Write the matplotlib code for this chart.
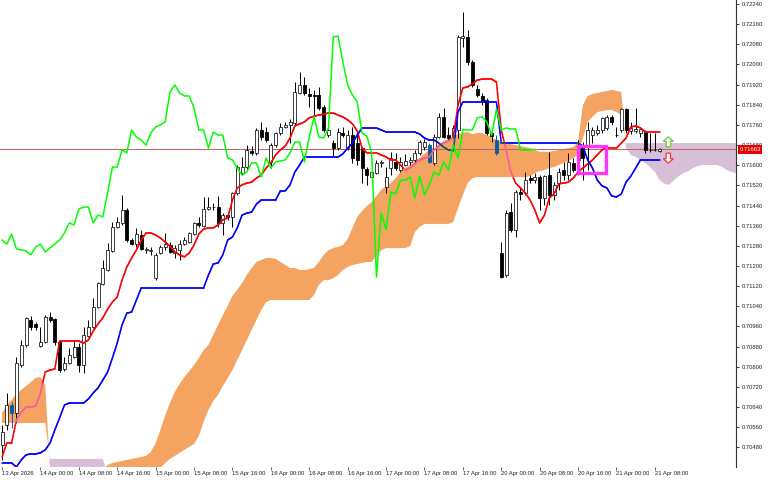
import numpy as np
import matplotlib
matplotlib.use("Agg")
import matplotlib.pyplot as plt
from matplotlib.collections import LineCollection
from matplotlib.patches import Rectangle, Polygon

plt.rcParams['font.family'] = ['Liberation Sans', 'DejaVu Sans']

# AUDUSD-like H1 candles, prices in points (1e-5)
open_pts = [
    70489, 70569, 70648, 70616, 70807, 70886, 70986, 70970, 70882, 70898,
    70998, 70990, 70898, 70791, 70815, 70839, 70878, 70807, 70922, 70958,
    71037, 71129, 71184, 71259, 71355, 71371, 71422, 71303, 71287, 71323,
    71264, 71260, 71152, 71252, 71276, 71283, 71252, 71264, 71287, 71295,
    71327, 71371, 71359, 71426, 71434, 71434, 71371, 71402, 71395, 71490,
    71569, 71593, 71657, 71649, 71740, 71732, 71613, 71680, 71728, 71752,
    71760, 71768, 71887, 71919, 71883, 71879, 71879, 71831, 71720, 71688,
    71668, 71728, 71668, 71720, 71688, 71668, 71585, 71553, 71569, 71609,
    71514, 71589, 71613, 71581, 71601, 71613, 71621, 71649, 71672, 71680,
    71609, 71712, 71792, 71720, 71712, 71740, 72105, 72109, 72010, 71903,
    71875, 71859, 71728, 71700, 71252, 71164, 71414, 71343, 71494, 71490,
    71549, 71541, 71553, 71470, 71561, 71482, 71529, 71581, 71561, 71609,
    71621, 71672, 71680, 71720, 71728, 71740, 71748, 71792, 71721, 71740,
    71823, 71736, 71736, 71728, 71732, 71662, 71660, 71656]
high_pts = [
    70569, 70696, 70660, 70839, 70906, 70998, 71001, 70978, 70958, 71005,
    71017, 70994, 70906, 70839, 70874, 70906, 70894, 70958, 70986, 71073,
    71136, 71224, 71291, 71375, 71395, 71482, 71430, 71311, 71351, 71343,
    71276, 71276, 71252, 71283, 71331, 71295, 71283, 71303, 71315, 71335,
    71375, 71395, 71474, 71474, 71450, 71478, 71410, 71414, 71494, 71601,
    71633, 71680, 71676, 71748, 71772, 71752, 71688, 71732, 71768, 71772,
    71784, 71930, 71970, 71950, 71907, 71899, 71911, 71839, 71748, 71700,
    71748, 71752, 71740, 71752, 71720, 71672, 71593, 71593, 71621, 71621,
    71593, 71653, 71649, 71633, 71645, 71633, 71661, 71700, 71704, 71688,
    71724, 71807, 71827, 71752, 71760, 72117, 72208, 72137, 72018, 71919,
    71887, 71867, 71732, 71720, 71295, 71422, 71450, 71502, 71514, 71573,
    71561, 71569, 71561, 71561, 71653, 71533, 71589, 71613, 71649, 71629,
    71700, 71692, 71772, 71752, 71760, 71792, 71799, 71799, 71752, 71827,
    71827, 71772, 71827, 71752, 71740, 71728, 71728, 71668]
low_pts = [
    70430, 70549, 70557, 70577, 70799, 70878, 70946, 70946, 70878, 70894,
    70978, 70886, 70779, 70783, 70811, 70835, 70779, 70775, 70918, 70954,
    71033, 71125, 71180, 71255, 71351, 71363, 71295, 71283, 71275, 71264,
    71252, 71244, 71144, 71248, 71264, 71252, 71232, 71224, 71283, 71291,
    71323, 71355, 71355, 71422, 71422, 71355, 71323, 71383, 71355, 71482,
    71561, 71581, 71641, 71641, 71700, 71692, 71589, 71672, 71720, 71748,
    71688, 71760, 71883, 71879, 71831, 71792, 71819, 71732, 71712, 71637,
    71661, 71712, 71661, 71609, 71601, 71529, 71522, 71541, 71565, 71593,
    71490, 71561, 71581, 71573, 71597, 71601, 71609, 71641, 71661, 71609,
    71601, 71708, 71708, 71700, 71708, 71708, 72069, 71998, 71911, 71871,
    71839, 71720, 71692, 71641, 71152, 71156, 71335, 71315, 71462, 71482,
    71529, 71529, 71422, 71442, 71442, 71462, 71502, 71541, 71541, 71573,
    71561, 71541, 71581, 71688, 71720, 71728, 71740, 71760, 71712, 71732,
    71728, 71724, 71728, 71712, 71649, 71653, 71657, 71653]
close_pts = [
    70541, 70648, 70616, 70815, 70886, 70994, 70958, 70958, 70898, 70998,
    70986, 70898, 70787, 70815, 70847, 70878, 70807, 70926, 70958, 71037,
    71132, 71192, 71263, 71355, 71375, 71422, 71303, 71287, 71327, 71268,
    71264, 71260, 71244, 71276, 71287, 71256, 71272, 71287, 71303, 71331,
    71371, 71363, 71426, 71434, 71434, 71371, 71402, 71395, 71490, 71593,
    71593, 71661, 71649, 71740, 71712, 71700, 71680, 71728, 71752, 71760,
    71772, 71891, 71919, 71887, 71875, 71875, 71827, 71740, 71740, 71668,
    71732, 71720, 71720, 71629, 71621, 71589, 71561, 71573, 71609, 71609,
    71553, 71629, 71589, 71613, 71617, 71621, 71649, 71692, 71692, 71613,
    71712, 71792, 71712, 71708, 71748, 72109, 72113, 72010, 71919, 71879,
    71851, 71728, 71716, 71649, 71156, 71410, 71343, 71494, 71486, 71541,
    71541, 71553, 71470, 71557, 71482, 71522, 71573, 71561, 71613, 71581,
    71680, 71629, 71740, 71740, 71740, 71788, 71792, 71772, 71719, 71823,
    71740, 71748, 71744, 71744, 71661, 71660, 71661, 71663]

# Ichimoku lines as shown (points)
tenkan_pts = [
    70442, 70497, 70497, 70589, 70620, 70640, 70640, 70644, 70696, 70779,
    70787, 70791, 70902, 70902, 70902, 70902, 70902, 70894, 70906, 70942,
    70970, 70994, 71029, 71057, 71077, 71144, 71196, 71232, 71264, 71303,
    71331, 71331, 71323, 71311, 71295, 71279, 71256, 71244, 71236, 71252,
    71283, 71327, 71347, 71351, 71351, 71363, 71383, 71391, 71462, 71510,
    71522, 71529, 71533, 71549, 71561, 71589, 71609, 71641, 71661, 71676,
    71708, 71756, 71764, 71772, 71788, 71795, 71799, 71803, 71807, 71807,
    71799, 71792, 71780, 71764, 71736, 71668, 71649, 71649, 71649, 71641,
    71633, 71621, 71621, 71601, 71581, 71589, 71605, 71621, 71629, 71633,
    71661, 71676, 71688, 71696, 71712, 71839, 71907, 71911, 71923, 71938,
    71942, 71942, 71942, 71930, 71740, 71661, 71573, 71529, 71510, 71490,
    71462, 71422, 71371, 71402, 71470, 71486, 71526, 71529, 71533, 71549,
    71573, 71589, 71605, 71621, 71641, 71661, 71668, 71668, 71668, 71688,
    71708, 71752, 71756, 71748, 71732, 71732, 71732, 71732]
kijun_pts = [
    70418, 70418, 70418, 70402, 70430, 70450, 70454, 70454, 70458, 70470,
    70497, 70549, 70597, 70648, 70656, 70656, 70656, 70656, 70672, 70696,
    70716, 70747, 70779, 70835, 70894, 70966, 71013, 71017, 71065, 71113,
    71113, 71113, 71113, 71113, 71113, 71113, 71113, 71113, 71113, 71113,
    71113, 71113, 71113, 71164, 71208, 71212, 71244, 71303, 71315, 71351,
    71402, 71410, 71414, 71446, 71462, 71462, 71462, 71462, 71498, 71498,
    71522, 71573, 71601, 71633, 71633, 71633, 71633, 71633, 71633, 71633,
    71633, 71645, 71668, 71688, 71720, 71748, 71748, 71748, 71748, 71740,
    71732, 71732, 71732, 71732, 71732, 71732, 71732, 71724, 71708, 71700,
    71700, 71688, 71672, 71661, 71657, 71811, 71851, 71851, 71851, 71851,
    71851, 71851, 71851, 71851, 71688, 71688, 71688, 71688, 71688, 71688,
    71688, 71688, 71688, 71688, 71688, 71688, 71688, 71688, 71688, 71688,
    71688, 71676, 71621, 71589, 71541, 71518, 71510, 71478, 71474, 71486,
    71533, 71557, 71589, 71621, 71621, 71621, 71621, 71621]
span_a_pts = [
    70616, 70648, 70668, 70692, 70708, 70724, 70739, 70755, 70759, 70728,
    70390, 70390, 70390, 70390, 70390, 70390, 70390, 70390, 70390, 70390,
    70390, 70390, 70410, 70418, 70422, 70426, 70430, 70434, 70438, 70442,
    70446, 70462, 70497, 70549, 70608, 70656, 70700, 70732, 70759, 70783,
    70807, 70835, 70866, 70886, 70926, 70966, 71005, 71041, 71081, 71105,
    71132, 71164, 71192, 71216, 71224, 71232, 71232, 71228, 71216, 71204,
    71192, 71192, 71184, 71184, 71188, 71192, 71216, 71244, 71263, 71271,
    71276, 71283, 71307, 71351, 71395, 71418, 71438, 71454, 71478, 71502,
    71518, 71529, 71549, 71573, 71589, 71601, 71617, 71629, 71645, 71661,
    71672, 71684, 71696, 71704, 71712, 71724, 71728, 71732, 71724, 71728,
    71728, 71720, 71712, 71700, 71692, 71688, 71684, 71680, 71676, 71672,
    71668, 71661, 71653, 71653, 71653, 71657, 71661, 71664, 71668, 71672,
    71692, 71839, 71875, 71883, 71887, 71891, 71895, 71899, 71895, 71891,
    71668, 71641, 71633, 71621, 71609, 71593, 71573, 71541, 71526, 71522,
    71541, 71557, 71569, 71577, 71589, 71597, 71601, 71601, 71601, 71601,
    71593, 71581, 71573, 71569]
span_b_pts = [
    70577, 70577, 70577, 70577, 70577, 70577, 70577, 70577, 70577, 70577,
    70434, 70434, 70434, 70434, 70434, 70434, 70434, 70434, 70434, 70434,
    70434, 70434, 70370, 70370, 70370, 70370, 70370, 70370, 70370, 70370,
    70370, 70370, 70382, 70398, 70418, 70434, 70446, 70458, 70470, 70482,
    70493, 70525, 70581, 70628, 70664, 70688, 70724, 70755, 70787, 70827,
    70866, 70906, 70946, 70986, 71025, 71057, 71065, 71065, 71065, 71065,
    71065, 71065, 71065, 71065, 71065, 71085, 71125, 71144, 71144, 71152,
    71164, 71184, 71196, 71204, 71208, 71212, 71216, 71216, 71240, 71263,
    71271, 71271, 71271, 71271, 71271, 71279, 71335, 71355, 71367, 71367,
    71367, 71367, 71367, 71367, 71375, 71430, 71482, 71529, 71549, 71553,
    71553, 71553, 71553, 71553, 71553, 71553, 71553, 71553, 71553, 71553,
    71557, 71569, 71577, 71581, 71589, 71593, 71601, 71609, 71617, 71629,
    71641, 71708, 71772, 71792, 71811, 71815, 71819, 71819, 71811, 71799,
    71688, 71688, 71688, 71688, 71688, 71688, 71688, 71688, 71688, 71688,
    71688, 71688, 71688, 71688, 71688, 71688, 71688, 71688, 71688, 71688,
    71688, 71688, 71688, 71688]

time_labels = ['13 Apr 2026', '14 Apr 00:00', '14 Apr 08:00', '14 Apr 16:00',
               '15 Apr 00:00', '15 Apr 08:00', '15 Apr 16:00', '16 Apr 00:00',
               '16 Apr 08:00', '16 Apr 16:00', '17 Apr 00:00', '17 Apr 08:00',
               '17 Apr 16:00', '20 Apr 00:00', '20 Apr 08:00', '20 Apr 16:00',
               '21 Apr 00:00', '21 Apr 08:00']
bars_per_label = 8
chikou_shift = 26
box_bars = (120, 125.8)          # highlighted zone
box_prices = (0.71570, 0.71676)

o = np.array(open_pts) / 1e5
h = np.array(high_pts) / 1e5
l = np.array(low_pts) / 1e5
c = np.array(close_pts) / 1e5
tenkan = np.array(tenkan_pts) / 1e5
kijun = np.array(kijun_pts) / 1e5
span_a = np.array(span_a_pts) / 1e5
span_b = np.array(span_b_pts) / 1e5
xb = np.arange(len(c))
xc = np.arange(len(span_a))
chikou = c[chikou_shift:]
xch = np.arange(len(chikou))

ORANGE = '#f4a460'
THISTLE = '#d8bfd8'


def in_orange(xq, yq):
    a = np.interp(xq, xc, span_a)
    b = np.interp(xq, xc, span_b)
    return (a >= b) & (yq <= a) & (yq >= b)


def cloud_line(ax, x, y, col_out, col_in, lw, z):
    # split into short pieces so the part inside the cloud can change colour
    xs = np.linspace(x[0], x[-1], (len(x) - 1) * 8 + 1)
    ys = np.interp(xs, x, y)
    pts = np.column_stack([xs, ys])
    segs = np.stack([pts[:-1], pts[1:]], axis=1)
    inside = in_orange((xs[:-1] + xs[1:]) / 2, (ys[:-1] + ys[1:]) / 2)
    cols = [col_in if k else col_out for k in inside]
    ax.add_collection(LineCollection(segs, colors=cols, linewidths=lw,
                                     capstyle='round', zorder=z))


fig = plt.figure(figsize=(7.68, 4.8), dpi=100)
ax = fig.add_axes((0, 13 / 480, 736 / 768, 467 / 480))
ax.set_xlim(-0.42, 152.9)
ax.set_ylim(0.70402, 0.72256)

# cloud
ax.fill_between(xc, span_a, span_b, where=span_a >= span_b, interpolate=True,
                color=ORANGE, linewidth=0, zorder=1)
ax.fill_between(xc, span_a, span_b, where=span_a < span_b, interpolate=True,
                color=THISTLE, linewidth=0, zorder=1)

# bid line
ax.axhline(c[-1], color='#c06060', lw=0.7, zorder=2)

# candles
for i in xb:
    bull = c[i] >= o[i]
    inside = in_orange(i, (o[i] + c[i]) / 2)
    dark = '#0b5b9f' if inside else 'black'
    wick = 'black' if bull else dark
    ax.vlines(i, l[i], h[i], color=wick, lw=0.7, zorder=3)
    lo = min(o[i], c[i])
    hgt = max(abs(c[i] - o[i]), 0.00002)
    ax.add_patch(Rectangle((i - 0.31, lo), 0.62, hgt,
                           facecolor='white' if bull else dark,
                           edgecolor='#202020' if bull else dark,
                           lw=0.6, zorder=4))

# ichimoku lines
cloud_line(ax, xb.astype(float), tenkan, '#ff0000', '#f45b9f', 1.1, 5)
cloud_line(ax, xb.astype(float), kijun, '#0000ff', '#0b5b60', 1.1, 5)
ax.plot(xch, chikou, color='#00ff00', lw=1.1, zorder=6)

# highlight box
ax.add_patch(Rectangle((box_bars[0], box_prices[0]), box_bars[1] - box_bars[0],
                       box_prices[1] - box_prices[0], fill=False,
                       edgecolor='#ff33ff', lw=2.4, zorder=7))

# signal arrows next to the last bar
ax_x = len(c) + 0.8
last = c[-1]


def arrow(x0, tip, tail, color):
    mid = tip + (tail - tip) * 0.45
    pts = [(x0, tip), (x0 + 1.05, mid), (x0 + 0.45, mid), (x0 + 0.45, tail),
           (x0 - 0.45, tail), (x0 - 0.45, mid), (x0 - 1.05, mid)]
    ax.add_patch(Polygon(pts, closed=True, facecolor='white', edgecolor=color,
                         lw=0.9, zorder=7))


arrow(ax_x, last + 0.00050, last + 0.00010, '#66cc33')
arrow(ax_x, last - 0.00055, last - 0.00015, '#ff3333')

# axes styling
for s in ('top', 'left', 'bottom'):
    ax.spines[s].set_visible(False)
ax.spines['right'].set_color('#333333')
ax.spines['right'].set_linewidth(0.8)

ax.yaxis.tick_right()
yt = np.arange(0.70480, 0.722401, 0.00080)
ax.set_yticks(yt)
ax.set_yticklabels(['%.5f' % v for v in yt])
ax.tick_params(axis='y', direction='out', length=2.5, width=0.6, pad=1.5,
               labelsize=4.2, colors='#222222')

xt = np.arange(len(time_labels)) * bars_per_label
ax.set_xticks(xt)
ax.set_xticklabels(time_labels)
ax.tick_params(axis='x', direction='out', length=2, width=0.5, pad=1,
               labelsize=4.2, colors='#222222')
for lbl in ax.get_xticklabels():
    lbl.set_ha('left')

ax.annotate('%.5f' % last, xy=(1.0, last), xycoords=('axes fraction', 'data'),
            xytext=(2.5, 0), textcoords='offset points', va='center', ha='left',
            fontsize=4.2, color='white', annotation_clip=False,
            bbox=dict(boxstyle='square,pad=0.3', fc='#e60000', ec='none'))

fig.savefig('out.png', dpi=100)
